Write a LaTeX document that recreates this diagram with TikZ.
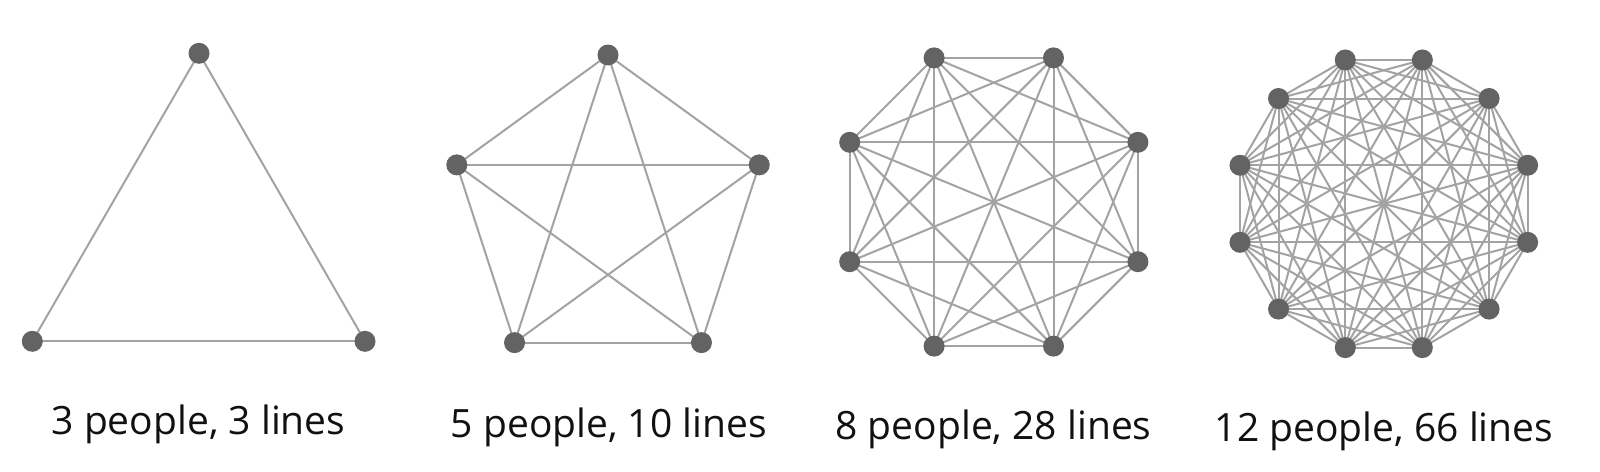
\documentclass[tikz,border=0pt]{standalone}
\usepackage{fontspec}
\setmainfont{Open Sans}
\usetikzlibrary{backgrounds}
\definecolor{edgegray}{HTML}{A3A3A3}
\definecolor{dotgray}{HTML}{636363}
\definecolor{txt}{HTML}{111111}
\begin{document}
\begin{tikzpicture}[x=1pt,y=-1pt,
  person/.style={circle,fill=dotgray,inner sep=0pt,minimum size=21pt},
  link/.style={draw=edgegray,line width=2pt},
  caption/.style={anchor=base,text=txt,font=\fontsize{39}{47}\selectfont,inner sep=0pt}]
\useasboundingbox (0,0) rectangle (1600,471);
% triangle
\node[person] (a1) at (199,53.3) {};
\node[person] (a2) at (32.3,341.3) {};
\node[person] (a3) at (365,341.3) {};
% pentagon
\foreach \i in {1,...,5} {
  \pgfmathsetmacro\ang{90+72*(\i-1)}
  \node[person] (b\i) at ({608+159*cos(\ang)},{214-159*sin(\ang)}) {};
}
% octagon
\foreach \i in {1,...,8} {
  \pgfmathsetmacro\ang{22.5+45*(\i-1)}
  \node[person] (c\i) at ({993.8+156*cos(\ang)},{202-156*sin(\ang)}) {};
}
% dodecagon
\foreach \i in {1,...,12} {
  \pgfmathsetmacro\ang{15+30*(\i-1)}
  \node[person] (d\i) at ({1383.8+148.9*cos(\ang)},{203.8-148.9*sin(\ang)}) {};
}
\begin{scope}[on background layer]
  \fill[white] (0,0) rectangle (1600,471);
  \draw[link] (a1.center) -- (a2.center);
  \draw[link] (a2.center) -- (a3.center);
  \draw[link] (a3.center) -- (a1.center);
  \foreach \i in {1,...,4} {
    \pgfmathtruncatemacro\s{\i+1}
    \foreach \j in {\s,...,5} \draw[link] (b\i.center) -- (b\j.center);
  }
  \foreach \i in {1,...,7} {
    \pgfmathtruncatemacro\s{\i+1}
    \foreach \j in {\s,...,8} \draw[link] (c\i.center) -- (c\j.center);
  }
  \foreach \i in {1,...,11} {
    \pgfmathtruncatemacro\s{\i+1}
    \foreach \j in {\s,...,12} \draw[link] (d\i.center) -- (d\j.center);
  }
\end{scope}
\node[caption] (l1) at (198.5,434) {3 people, 3 lines};
\node[caption] (l2) at (608.8,437) {5 people, 10 lines};
\node[caption] (l3) at (993.5,439) {8 people, 28 lines};
\node[caption] (l4) at (1384,441) {12 people, 66 lines};
\end{tikzpicture}
\end{document}
